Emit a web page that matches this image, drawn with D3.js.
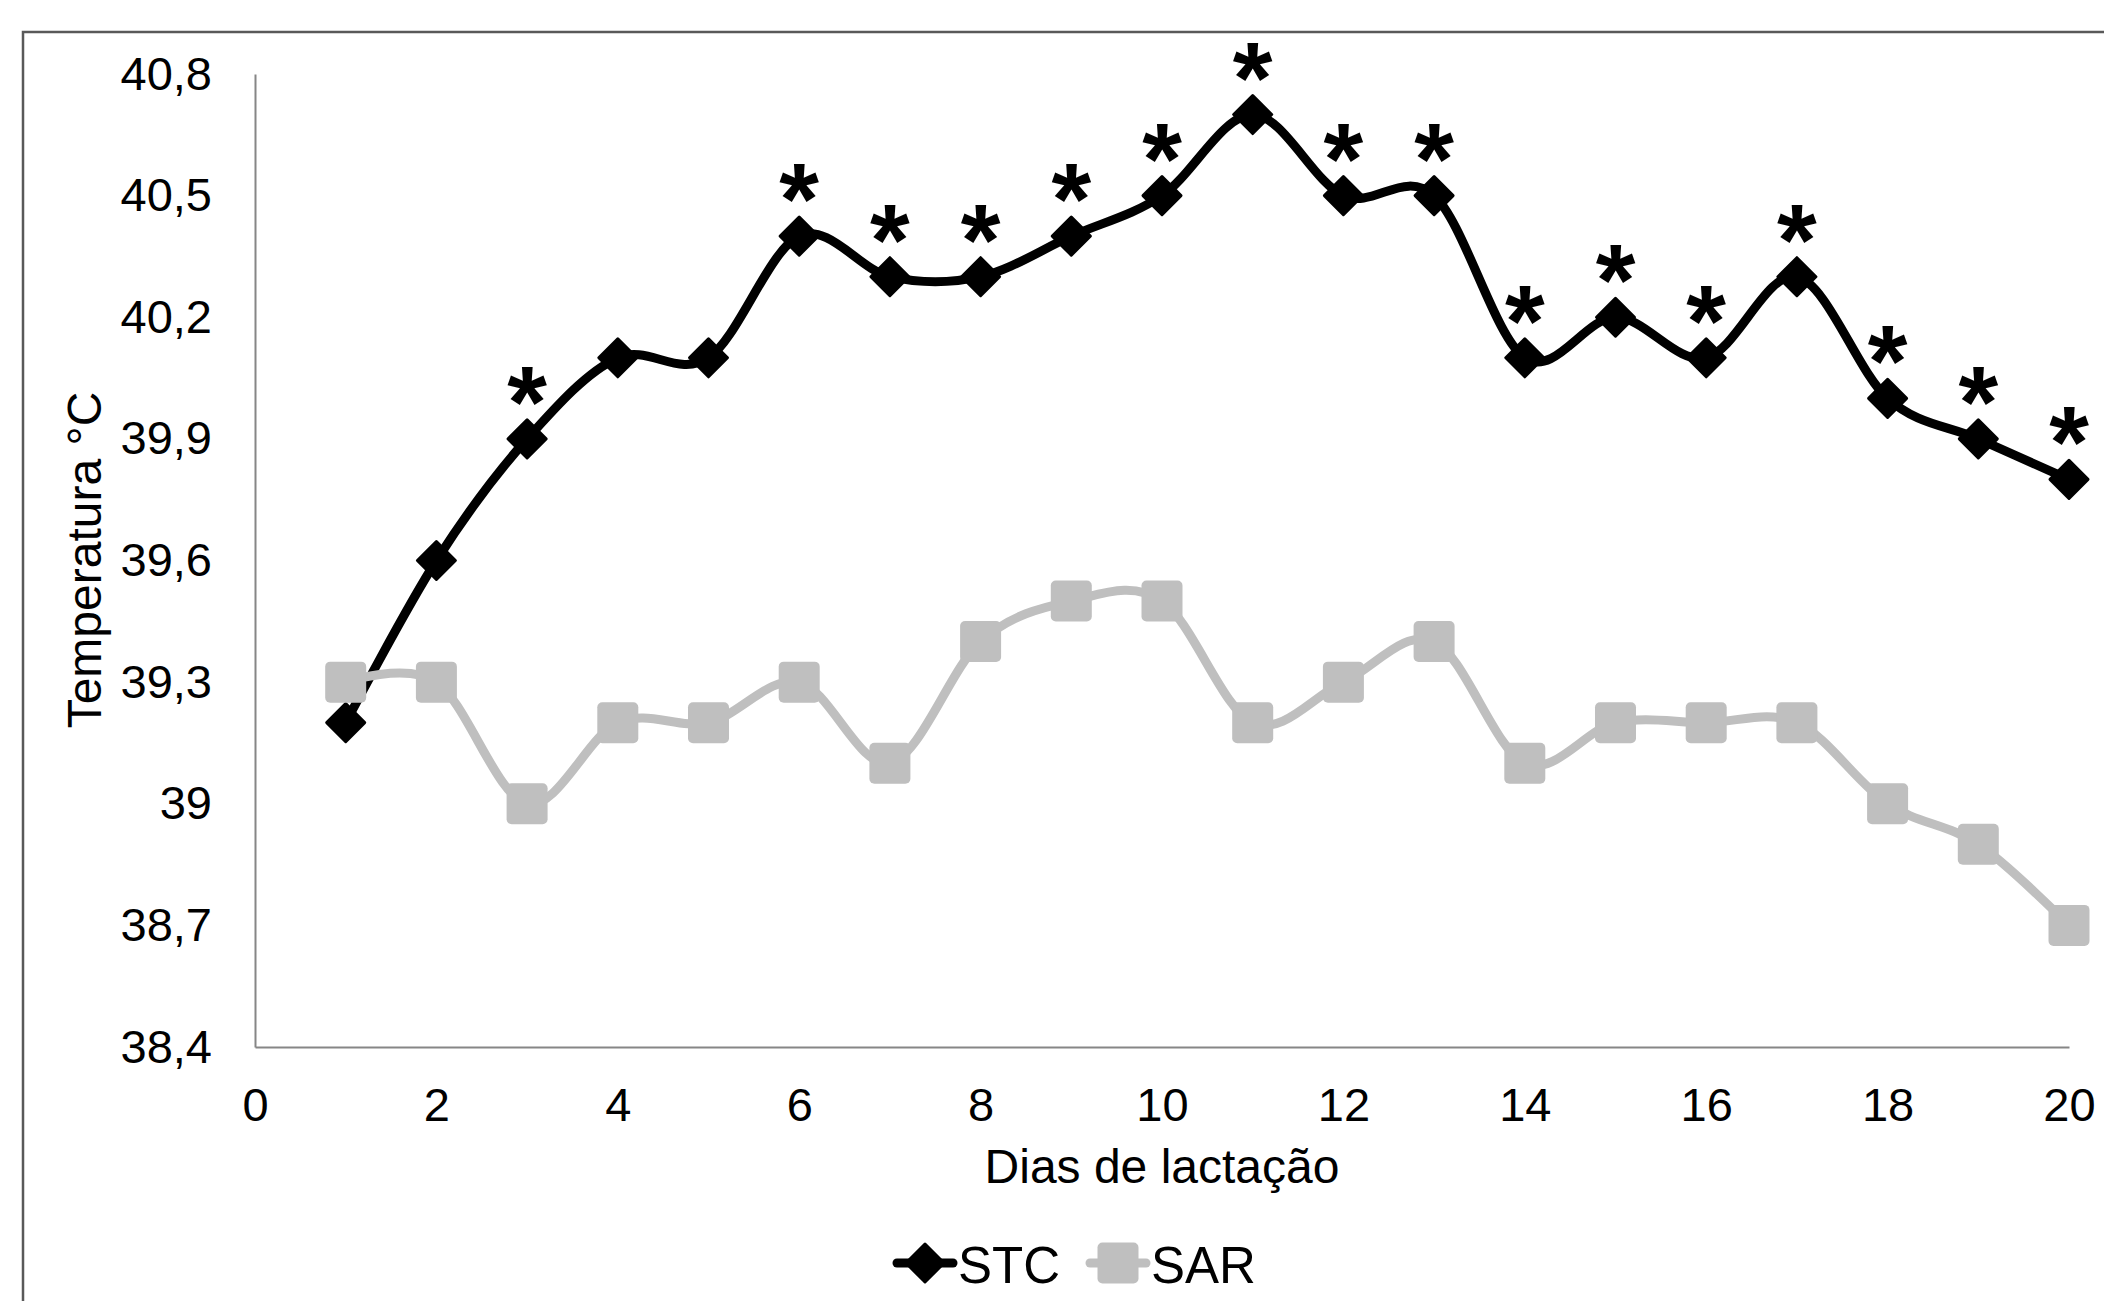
<!DOCTYPE html>
<html>
<head>
<meta charset="utf-8">
<script src="https://cdn.jsdelivr.net/npm/d3@7"></script>
<style>
  body { margin: 0; background: #fff; }
  text { font-family: "Liberation Sans", Arial, sans-serif; fill: #000; }
</style>
</head>
<body>
<script>
//chart data
var days = [1, 2, 3, 4, 5, 6, 7, 8, 9, 10, 11, 12, 13, 14, 15, 16, 17, 18, 19, 20];
var stc = [39.2, 39.6, 39.9, 40.1, 40.1, 40.4, 40.3, 40.3, 40.4, 40.5, 40.7, 40.5, 40.5, 40.1, 40.2, 40.1, 40.3, 40.0, 39.9, 39.8];
var sar = [39.3, 39.3, 39.0, 39.2, 39.2, 39.3, 39.1, 39.4, 39.5, 39.5, 39.2, 39.3, 39.4, 39.1, 39.2, 39.2, 39.2, 39.0, 38.9, 38.7];
//days flagged with an asterisk
var starDays = [3, 6, 7, 8, 9, 10, 11, 12, 13, 14, 15, 16, 17, 18, 19, 20];
var xTicks = [0, 2, 4, 6, 8, 10, 12, 14, 16, 18, 20];
var yTicks = [38.4, 38.7, 39.0, 39.3, 39.6, 39.9, 40.2, 40.5, 40.8];
var yTickLabels = ["38,4", "38,7", "39", "39,3", "39,6", "39,9", "40,2", "40,5", "40,8"];
var seriesNames = ["STC", "SAR"];

window.onload = drawChart();

function drawChart(){

    var width = 2104,
        height = 1301;

    var svg = d3.select("body")
        .append("svg")
        .attr("width", width)
        .attr("height", height);

    //outer frame (runs past the picture edge on the right and bottom)
    svg.append("rect")
        .attr("x", 23)
        .attr("y", 32)
        .attr("width", 2300)
        .attr("height", 1500)
        .attr("fill", "none")
        .attr("stroke", "#595959")
        .attr("stroke-width", 2.5);

    var x = d3.scaleLinear()
        .domain([0, 20])
        .range([255, 2069]);

    var y = d3.scaleLinear()
        .domain([38.4, 40.8])
        .range([1047, 74]);

    //axes
    var yAxis = d3.axisLeft(y)
        .tickValues(yTicks)
        .tickFormat(function(d, i){ return yTickLabels[i]; })
        .tickSize(0)
        .tickPadding(43);

    var xAxis = d3.axisBottom(x)
        .tickValues(xTicks)
        .tickSize(0)
        .tickPadding(41);

    var gy = svg.append("g")
        .attr("transform", "translate(" + x(0) + ",0)")
        .call(yAxis);

    var gx = svg.append("g")
        .attr("transform", "translate(0," + y(38.4) + ")")
        .call(xAxis);

    [gx, gy].forEach(function(g){
        g.select(".domain").attr("stroke", "#868686").attr("stroke-width", 2);
        g.selectAll("text")
            .attr("font-family", "Liberation Sans, Arial, sans-serif")
            .attr("font-size", 47)
            .attr("fill", "#000");
    });

    //axis titles
    svg.append("text")
        .attr("x", (x(0) + x(20)) / 2)
        .attr("y", 1183)
        .attr("text-anchor", "middle")
        .attr("font-size", 48)
        .text("Dias de lactação");

    svg.append("text")
        .attr("transform", "translate(101,560) rotate(-90)")
        .attr("text-anchor", "middle")
        .attr("font-size", 48)
        .text("Temperatura °C");

    var line = d3.line()
        .x(function(d){ return x(d[0]); })
        .y(function(d){ return y(d[1]); })
        .curve(d3.curveCardinal.tension(0));

    var stcPts = days.map(function(d, i){ return [d, stc[i]]; });
    var sarPts = days.map(function(d, i){ return [d, sar[i]]; });

    var diamond = "M0,-19L19,0L0,19L-19,0Z";

    //STC series
    svg.append("path")
        .datum(stcPts)
        .attr("d", line)
        .attr("fill", "none")
        .attr("stroke", "#000")
        .attr("stroke-width", 9);

    svg.selectAll(".stcMark")
        .data(stcPts)
        .enter()
        .append("path")
        .attr("class", "stcMark")
        .attr("transform", function(d){ return "translate(" + x(d[0]) + "," + y(d[1]) + ")"; })
        .attr("d", diamond)
        .attr("fill", "#000")
        .attr("stroke", "#000")
        .attr("stroke-width", 3)
        .attr("stroke-linejoin", "round");

    //asterisks over STC
    svg.selectAll(".star")
        .data(stcPts.filter(function(d){ return starDays.indexOf(d[0]) >= 0; }))
        .enter()
        .append("text")
        .attr("class", "star")
        .attr("x", function(d){ return x(d[0]); })
        .attr("y", function(d){ return y(d[1]) - 2; })
        .attr("text-anchor", "middle")
        .attr("font-size", 102)
        .attr("font-weight", "bold")
        .text("*");

    //SAR series (drawn on top)
    svg.append("path")
        .datum(sarPts)
        .attr("d", line)
        .attr("fill", "none")
        .attr("stroke", "#bfbfbf")
        .attr("stroke-width", 9);

    svg.selectAll(".sarMark")
        .data(sarPts)
        .enter()
        .append("rect")
        .attr("class", "sarMark")
        .attr("x", function(d){ return x(d[0]) - 20.5; })
        .attr("y", function(d){ return y(d[1]) - 20.5; })
        .attr("width", 41)
        .attr("height", 41)
        .attr("rx", 5)
        .attr("fill", "#bfbfbf");

    //legend
    var legend = [
        {name: seriesNames[0], cx: 925, color: "#000", shape: "diamond"},
        {name: seriesNames[1], cx: 1118, color: "#bfbfbf", shape: "square"}
    ];

    var lg = svg.selectAll(".legend")
        .data(legend)
        .enter()
        .append("g")
        .attr("class", "legend")
        .attr("transform", function(d){ return "translate(" + d.cx + ",1263)"; });

    lg.append("line")
        .attr("x1", -28)
        .attr("x2", 28)
        .attr("stroke", function(d){ return d.color; })
        .attr("stroke-width", 9)
        .attr("stroke-linecap", "round");

    lg.filter(function(d){ return d.shape == "diamond"; })
        .append("path")
        .attr("d", diamond)
        .attr("fill", "#000")
        .attr("stroke", "#000")
        .attr("stroke-width", 3)
        .attr("stroke-linejoin", "round");

    lg.filter(function(d){ return d.shape == "square"; })
        .append("rect")
        .attr("x", -20.5)
        .attr("y", -20.5)
        .attr("width", 41)
        .attr("height", 41)
        .attr("rx", 5)
        .attr("fill", "#bfbfbf");

    lg.append("text")
        .attr("x", 33)
        .attr("y", 20)
        .attr("font-size", 51)
        .text(function(d){ return d.name; });
};
</script>
</body>
</html>
